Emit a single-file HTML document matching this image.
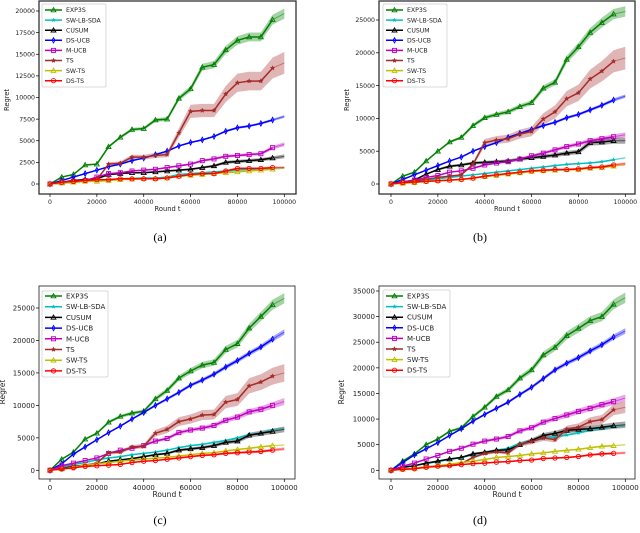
<!DOCTYPE html>
<html><head><meta charset="utf-8"><style>
html,body{margin:0;padding:0;background:#fff;}
svg{display:block;font-family:"DejaVu Sans","Liberation Sans",sans-serif;}
.cap{font-family:"Liberation Serif",serif;font-size:12px;}
</style></head><body>
<svg id="fig" width="640" height="533" viewBox="0 0 640 533"></svg>
<script>
const names = ["EXP3S","SW-LB-SDA","CUSUM","DS-UCB","M-UCB","TS","SW-TS","DS-TS"];
const rounds = [0,5000,10000,15000,20000,25000,30000,35000,40000,45000,50000,55000,60000,65000,70000,75000,80000,85000,90000,95000,100000];
const xTicks = [0,20000,40000,60000,80000,100000];

const aEXP3S=[0,800,1100,2200,2300,4300,5400,6300,6400,7400,7500,9900,11000,13500,13800,15500,16600,17000,17000,19000,19700];
const aSWLB=[0,100,200,300,400,500,600,650,700,700,800,1100,1200,1300,1400,1500,1600,1700,1700,1800,1900];
const aCUSUM=[0,200,400,500,600,1100,1200,1300,1300,1400,1500,1600,1700,1900,2100,2500,2600,2700,2800,3000,3200];
const aDSUCB=[0,400,800,1200,1600,2000,2300,2700,3000,3400,3800,4400,4800,5100,5500,6100,6500,6700,7000,7400,7800];
const aMUCB=[0,200,300,400,800,1200,1300,1500,1600,1700,1900,2100,2300,2700,2900,3200,3300,3400,3500,4200,4600];
const aTS=[0,100,200,300,500,2300,2400,3100,3100,3300,3400,5900,8400,8500,8500,10400,11700,11900,11900,13400,14000];
const aSWTS=[0,100,200,300,300,400,500,550,600,600,700,900,1000,1100,1200,1300,1400,1500,1600,1700,1800];
const aDSTS=[0,200,300,400,500,500,600,600,600,600,700,900,1100,1200,1200,1500,1800,1800,1800,1900,1900];

const bEXP3S=[0,1200,1800,3500,5000,6400,7100,8900,10100,10600,11000,11800,12400,14600,15500,19000,20900,23100,24600,25900,26300];
const bSWLB=[0,200,400,600,800,1000,1200,1400,1600,1800,2000,2200,2400,2600,2800,3000,3100,3200,3400,3700,4000];
const bCUSUM=[0,300,600,1500,2200,2700,2900,3200,3300,3400,3500,3800,4000,4200,4400,4700,4900,6300,6400,6600,6600];
const bDSUCB=[0,700,1400,2100,2800,3500,4100,5000,5700,6300,7100,7700,8300,8900,9400,10100,10600,11300,12000,12800,13400];
const bMUCB=[0,300,600,1000,1300,1800,2000,2400,2900,3200,3400,3800,4300,4700,5200,5700,6100,6600,6900,7200,7500];
const bTS=[0,200,500,700,1000,1200,1400,3000,6300,6700,6900,7600,8000,9900,11000,13000,13900,16000,17200,18700,19200];
const bSWTS=[0,100,200,400,500,600,700,900,1100,1300,1500,1700,1900,2000,2100,2200,2200,2400,2500,2700,2900];
const bDSTS=[0,200,300,400,500,600,700,900,1200,1400,1600,1800,2000,2100,2200,2200,2300,2500,2600,2900,3100];

const cEXP3S=[0,1700,2800,4800,5700,7400,8300,8800,9100,11000,12300,14200,15300,16200,16600,18600,19500,21900,23700,25500,26500];
const cSWLB=[0,500,900,1200,1600,1900,2100,2400,2600,2800,3100,3500,3800,4000,4300,4600,5000,5500,5700,6200,6400];
const cCUSUM=[0,300,600,800,1000,1400,1600,1800,2100,2400,2600,3100,3300,3500,3800,4300,4500,5400,5700,6000,6300];
const cDSUCB=[0,1000,2500,3600,4700,5800,6800,7900,8900,10000,11000,12000,13100,13900,14800,15900,16900,18000,19000,20200,21300];
const cMUCB=[0,700,1100,1500,1900,2600,3100,3400,3800,4500,4900,5800,6200,6500,6900,7700,8200,9000,9400,10000,10600];
const cTS=[0,300,300,800,1100,2700,2800,3600,3700,5700,6300,7500,7900,8500,8600,10500,10900,13000,13600,14500,15000];
const cSWTS=[0,200,500,800,1000,1200,1400,1600,1700,1900,2000,2200,2400,2600,2700,3000,3200,3400,3600,3800,3900];
const cDSTS=[0,200,400,600,700,800,900,1200,1400,1500,1700,1900,2100,2300,2400,2600,2700,2800,2900,3100,3300];

const dEXP3S=[0,1800,3200,5000,6100,7600,8300,10500,12300,14400,15700,18000,19600,22500,24000,26300,27700,29200,30000,32400,33700];
const dSWLB=[0,500,900,1300,1700,2100,2500,3000,3500,3900,4300,5300,5700,6200,6500,6900,7300,7800,8200,8500,8800];
const dCUSUM=[0,600,900,1400,1800,2200,2500,3200,3500,3900,4000,5000,5800,6800,7200,7800,8000,8100,8400,8700,8900];
const dDSUCB=[0,1500,3000,4200,5400,6800,8100,9600,10900,12100,13300,14800,16200,17900,19600,20900,22000,23300,24500,26000,27200];
const dMUCB=[0,800,1400,2200,2900,3700,4300,5100,5700,6100,6600,7700,8300,9400,10100,10800,11500,12100,12800,13400,14100];
const dTS=[0,200,300,700,800,1000,1300,2500,3300,3600,3400,5100,5600,6300,6000,8000,8400,9500,9900,11800,12300];
const dSWTS=[0,200,400,700,900,1200,1500,1800,2100,2500,2700,2900,3200,3400,3700,3900,4100,4400,4700,4800,5000];
const dDSTS=[0,200,300,600,800,900,1100,1300,1400,1600,1700,1900,2000,2300,2400,2500,2700,3000,3200,3300,3400];

const aYTicks=[0,2500,5000,7500,10000,12500,15000,17500,20000];
const bYTicks=[0,5000,10000,15000,20000,25000];
const cYTicks=[0,5000,10000,15000,20000,25000];
const dYTicks=[0,5000,10000,15000,20000,25000,30000,35000];

const colors=["#008000","#00bfbf","#000000","#0000ff","#bf00bf","#a52a2a","#bfbf00","#ff0000"];
const markers=["tri","star","tri","diamond","square","starf","tri","circle"];
const bandFrac=[0.03,0.03,0.07,0.02,0.05,0.09,0.03,0.07];

const panels=[
 {id:"a",series:[aEXP3S,aSWLB,aCUSUM,aDSUCB,aMUCB,aTS,aSWTS,aDSTS],yt:aYTicks,box:[39,1,296,194],x0:50,x1:284.3,y0:184,yRef:20000,yRefPix:11,fs:6.2,fw:1.3,leg:[42,4,106,87,10,10.1],xl:211,yl:[9,100],cap:[160,241,"(a)"]},
 {id:"b",series:[bEXP3S,bSWLB,bCUSUM,bDSUCB,bMUCB,bTS,bSWTS,bDSTS],yt:bYTicks,box:[379,1,635,194],x0:391,x1:625.3,y0:184,yRef:25000,yRefPix:20,fs:6.2,fw:1.3,leg:[383,4,447,87,10,10.1],xl:211,yl:[349,100],cap:[480,241,"(b)"]},
 {id:"c",series:[cEXP3S,cSWLB,cCUSUM,cDSUCB,cMUCB,cTS,cSWTS,cDSTS],yt:cYTicks,box:[39,286,295,479],x0:50,x1:284.3,y0:470.3,yRef:25000,yRefPix:308,fs:7,fw:0.9,leg:[42,291,108,377,296,10.7],xl:497,yl:[5,392],cap:[160,524,"(c)"]},
 {id:"d",series:[dEXP3S,dSWLB,dCUSUM,dDSUCB,dMUCB,dTS,dSWTS,dDSTS],yt:dYTicks,box:[379,286,635,479],x0:391,x1:625.3,y0:470.3,yRef:35000,yRefPix:291,fs:7,fw:0.9,leg:[383,290,450,377,296,10.6],xl:497,yl:[344,392],cap:[480,524,"(d)"]}
];

const NS="http://www.w3.org/2000/svg";
const fig=document.getElementById('fig');
function mk(tag,attrs,parent){const e=document.createElementNS(NS,tag);for(const k in attrs)e.setAttribute(k,attrs[k]);(parent||fig).appendChild(e);return e;}

function marker(g,type,x,y,col,s){
  let e;
  if(type==="tri"){e=mk('polygon',{points:`${x},${y-s} ${x-s},${y+s*0.75} ${x+s},${y+s*0.75}`,fill:'none',stroke:col,'stroke-width':0.9},g);}
  else if(type==="square"){e=mk('rect',{x:x-s*0.85,y:y-s*0.85,width:s*1.7,height:s*1.7,fill:'none',stroke:col,'stroke-width':0.9},g);}
  else if(type==="circle"){e=mk('circle',{cx:x,cy:y,r:s*0.9,fill:'none',stroke:col,'stroke-width':0.9},g);}
  else if(type==="diamond"){e=mk('polygon',{points:`${x},${y-s*1.1} ${x-s*0.6},${y} ${x},${y+s*1.1} ${x+s*0.6},${y}`,fill:'none',stroke:col,'stroke-width':0.9},g);}
  else {const r=type==="starf"?s:s*0.8;let p=[];for(let i=0;i<10;i++){const a=-Math.PI/2+i*Math.PI/5;const rr=i%2?r*0.45:r;p.push((x+rr*Math.cos(a)).toFixed(2)+","+(y+rr*Math.sin(a)).toFixed(2));}
    e=mk('polygon',{points:p.join(' '),fill:col,stroke:col,'stroke-width':0.4},g);}
  return e;
}

panels.forEach(P=>{
  const g=mk('g',{});
  
  
  const xs=v=>P.x0+(v/100000)*(P.x1-P.x0);
  const ys=v=>P.y0-(v/P.yRef)*(P.y0-P.yRefPix);
  const [bx0,by0,bx1,by1]=P.box;
  const cl='clip'+P.id;
  const defs=mk('defs',{},g);const cp=mk('clipPath',{id:cl},defs);mk('rect',{x:bx0,y:by0,width:bx1-bx0,height:by1-by0},cp);
  const plot=mk('g',{'clip-path':`url(#${cl})`},g);
  
  
  P.series.forEach((s,i)=>{
    const up=s.map((v,k)=>xs(rounds[k])+","+ys(v*(1+bandFrac[i]))).join(' ');
    const dn=s.map((v,k)=>xs(rounds[k])+","+ys(v*(1-bandFrac[i]))).reverse().join(' ');
    const b=mk('polygon',{points:up+" "+dn,fill:colors[i],'fill-opacity':0.35,stroke:'none'},plot);
    
    
  });
  P.series.forEach((s,i)=>{
    mk('polyline',{points:`${xs(rounds[19])},${ys(s[19])} ${xs(rounds[20])},${ys(s[20])}`,fill:'none',stroke:colors[i],'stroke-width':1,'stroke-opacity':0.5},plot);
    const pts=s.slice(0,20).map((v,k)=>xs(rounds[k])+","+ys(v)).join(' ');
    const l=mk('polyline',{points:pts,fill:'none',stroke:colors[i],'stroke-width':1.5},plot);
    
    
    for(let k=0;k<20;k++){const m=marker(plot,markers[i],xs(rounds[k]),ys(s[k]),colors[i],2.4);
      
      }
  });
  const fr=mk('rect',{x:bx0,y:by0,width:bx1-bx0,height:by1-by0,fill:'none',stroke:'#333','stroke-width':P.fw},g);
  
  
  xTicks.forEach(t=>{const x=xs(t);mk('line',{x1:x,y1:by1,x2:x,y2:by1+3,stroke:'#000','stroke-width':0.7},g);
    const tx=mk('text',{x:x,y:by1+4+P.fs,'font-size':P.fs,'text-anchor':'middle',fill:'#222'},g);tx.textContent=t;
    });
  P.yt.forEach(t=>{const y=ys(t);mk('line',{x1:bx0-3,y1:y,x2:bx0,y2:y,stroke:'#000','stroke-width':0.7},g);
    const tx=mk('text',{x:bx0-4,y:y+P.fs*0.35,'font-size':P.fs,'text-anchor':'end',fill:'#222'},g);tx.textContent=t;
    });
  const xl=mk('text',{x:(bx0+bx1)/2,y:P.xl,'font-size':P.fs+0.5,'text-anchor':'middle',fill:'#222'},g);xl.textContent='Round t';
  
  const yl=mk('text',{x:P.yl[0],y:P.yl[1],'font-size':P.fs+0.5,'text-anchor':'middle',fill:'#222',transform:`rotate(-90 ${P.yl[0]} ${P.yl[1]})`},g);yl.textContent='Regret';
  
  const [lx0,ly0,lx1,ly1,r0,dr]=P.leg;
  const lg=mk('g',{},g);
  
  mk('rect',{x:lx0,y:ly0,width:lx1-lx0,height:ly1-ly0,fill:'#fff','fill-opacity':0.85,stroke:'#ccc','stroke-width':0.7,rx:1.5},lg);
  names.forEach((n,i)=>{const y=r0+i*dr;const e=mk('g',{},lg);
    
    mk('line',{x1:lx0+3,y1:y,x2:lx0+20,y2:y,stroke:colors[i],'stroke-width':1.5},e);
    marker(e,markers[i],lx0+11.5,y,colors[i],2.4);
    const t=mk('text',{x:lx0+24,y:y+P.fs*0.35,'font-size':P.fs,fill:'#222'},e);t.textContent=n;});
  const c=mk('text',{x:P.cap[0],y:P.cap[1],'text-anchor':'middle',class:'cap',fill:'#000'},g);c.textContent=P.cap[2];
  
});
</script>
</body></html>
